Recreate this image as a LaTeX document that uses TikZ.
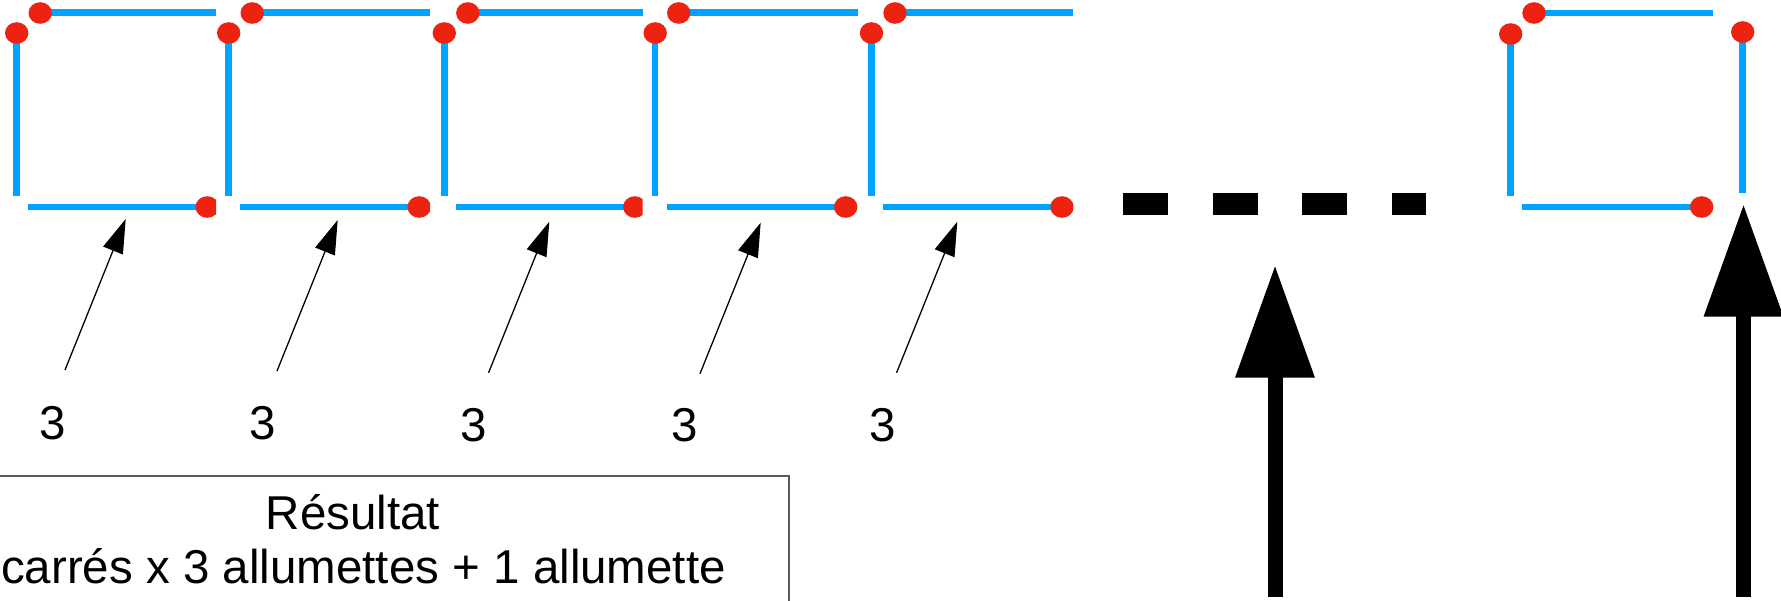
\documentclass[tikz,border=0pt]{standalone}
\usepackage{fontspec}
\setmainfont{Liberation Sans}
\usetikzlibrary{arrows.meta}
\definecolor{matchblue}{RGB}{0,163,255}
\definecolor{headred}{RGB}{238,34,17}
\definecolor{boxgray}{RGB}{90,90,90}
\tikzset{
  stick/.style={draw=matchblue, line width=6.5pt},
  tipdot/.style={fill=headred},
  thinarrow/.style={line width=1.3pt, -{Triangle[length=34pt,width=21pt]}},
  bigarrow/.style={line width=15pt, -{Triangle[length=112.5pt,width=75.4pt]}},
  lbl/.style={font=\fontsize{47.5}{54}\selectfont, inner sep=0pt, anchor=base},
  dashbox/.style={fill=black},
  resultbox/.style={draw=boxgray, line width=1.2pt},
}
\begin{document}
\begin{tikzpicture}[x=1pt,y=-1pt]
\path[use as bounding box] (0,0) rectangle (1781,600);
\clip (0,0) rectangle (1781,600);
% chain of squares
\foreach \L/\E in {16.7/216, 228.7/430, 444.3/642.7, 655.2/858.3, 871.5/1073.3} {
  \draw[stick] (\L,33) -- (\L,196);
  \draw[stick] (\L+23.5,12.7) -- (\E,12.7);
  \draw[stick] (\L+11.5,207) -- (\L+190.5,207);
  \fill[tipdot] (\L,33) ellipse [x radius=11.7, y radius=10.8];
  \fill[tipdot] (\L+23.5,13) ellipse [x radius=11.7, y radius=10.8];
  \begin{scope}
    \clip (\E-40,190) rectangle (\E,225);
    \fill[tipdot] (\L+190.5,207) ellipse [x radius=11.7, y radius=10.8];
  \end{scope}
}
% last square
\draw[stick] (1510.7,34) -- (1510.7,196);
\draw[stick] (1534,13) -- (1713.3,13);
\draw[stick] (1522.3,207) -- (1701.7,207);
\draw[stick] (1742.7,32) -- (1742.7,193);
\fill[tipdot] (1510.7,34) ellipse [x radius=11.7, y radius=10.8];
\fill[tipdot] (1534,13) ellipse [x radius=11.7, y radius=10.8];
\fill[tipdot] (1742.7,32) ellipse [x radius=11.7, y radius=10.8];
\fill[tipdot] (1701.7,207) ellipse [x radius=11.7, y radius=10.8];
% dashes
\fill[dashbox] (1123.3,192.7) rectangle (1168.3,215);
\fill[dashbox] (1212.7,192.7) rectangle (1257.7,215);
\fill[dashbox] (1302.3,192.7) rectangle (1347.3,215);
\fill[dashbox] (1391.7,192.7) rectangle (1426,215);
% thin arrows and labels
\coordinate (a1) at (125.7,219);   \coordinate (s1) at (65,370);
\coordinate (a2) at (337.7,220);   \coordinate (s2) at (277,371);
\coordinate (a3) at (549.3,221.7); \coordinate (s3) at (488.6,372.7);
\coordinate (a4) at (760.7,222.7); \coordinate (s4) at (700,373.7);
\coordinate (a5) at (957.3,221.7); \coordinate (s5) at (896.6,372.7);
\foreach \i in {1,...,5} { \draw[thinarrow] (s\i) -- (a\i); }
\node[lbl] (n1) at (53,439) {3};
\node[lbl] (n2) at (263,439) {3};
\node[lbl] (n3) at (474,441) {3};
\node[lbl] (n4) at (685,441) {3};
\node[lbl] (n5) at (883,441) {3};
% big arrows
\coordinate (m0) at (1275,597);   \coordinate (m1) at (1275,265);
\coordinate (r0) at (1743.5,597); \coordinate (r1) at (1743.5,204);
\draw[bigarrow] (m0) -- (m1);
\draw[bigarrow] (r0) -- (r1);
% result box
\draw[resultbox] (-20,476) rectangle (789,640);
\node[lbl] (res) at (353,529) {Résultat};
\node[lbl, anchor=base west] (formule) at (1,583) {carrés x 3 allumettes + 1 allumette};
\end{tikzpicture}
\end{document}
